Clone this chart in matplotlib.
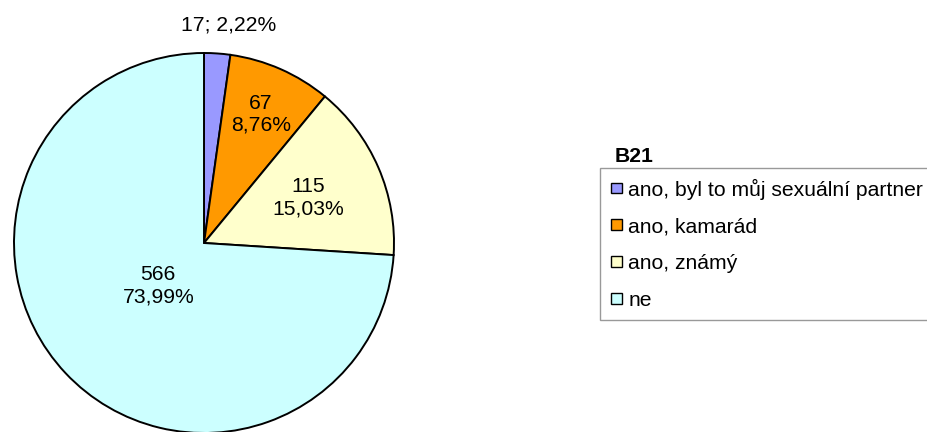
import numpy as np
import matplotlib.pyplot as plt

plt.rcParams['font.family'] = ['Liberation Sans', 'DejaVu Sans']

# answers to question B21
labels = ['ano, byl to můj sexuální partner', 'ano, kamarád', 'ano, známý', 'ne']
counts = [17, 67, 115, 566]
percents = ['2,22%', '8,76%', '15,03%', '73,99%']
colors = ['#9999FF', '#FF9900', '#FFFFCC', '#CCFFFF']

fs = 15.2
W, H = 927, 432
fig = plt.figure(figsize=(W / 100, H / 100), dpi=100)
ax = fig.add_axes([14 / W, -1 / H, 380 / W, 380 / H])

wedges, _ = ax.pie(counts, colors=colors, startangle=90, counterclock=False,
                   radius=1, wedgeprops=dict(edgecolor='black', linewidth=1.4))
ax.set_xlim(-1, 1)
ax.set_ylim(-1, 1)
ax.set_aspect('equal')
ax.axis('off')

# data labels, radius of each label inside/outside the pie
lab_r = [1.15, 0.74, 0.6, 0.33]
total = sum(counts)
start = 0.0
for i, c in enumerate(counts):
    mid = (start + c / 2) / total * 2 * np.pi
    start += c
    x = lab_r[i] * np.sin(mid)
    y = lab_r[i] * np.cos(mid)
    if i == 0:
        ax.text(x + 0.05, y, f'{c}; {percents[i]}', ha='center', va='center', fontsize=fs)
    else:
        ax.text(x, y, f'{c}\n{percents[i]}', ha='center', va='center', fontsize=fs,
                linespacing=1.2)

leg = fig.legend(wedges, labels, loc='upper left',
                 bbox_to_anchor=(600 / W, 1 - 168 / H), bbox_transform=fig.transFigure,
                 fontsize=fs, frameon=True, fancybox=False, borderaxespad=0,
                 handlelength=0.55, handleheight=0.4, handletextpad=0.28,
                 borderpad=0.5, labelspacing=0.84)
leg.get_frame().set_edgecolor('#808080')
leg.get_frame().set_linewidth(1.0)
for h in leg.legend_handles:
    h.set_edgecolor('black')
    h.set_linewidth(1.0)

fig.text(615 / W, 1 - 157 / H, 'B21', fontsize=fs, fontweight='bold', va='center', ha='left')

fig.savefig('out.png', dpi=100)
